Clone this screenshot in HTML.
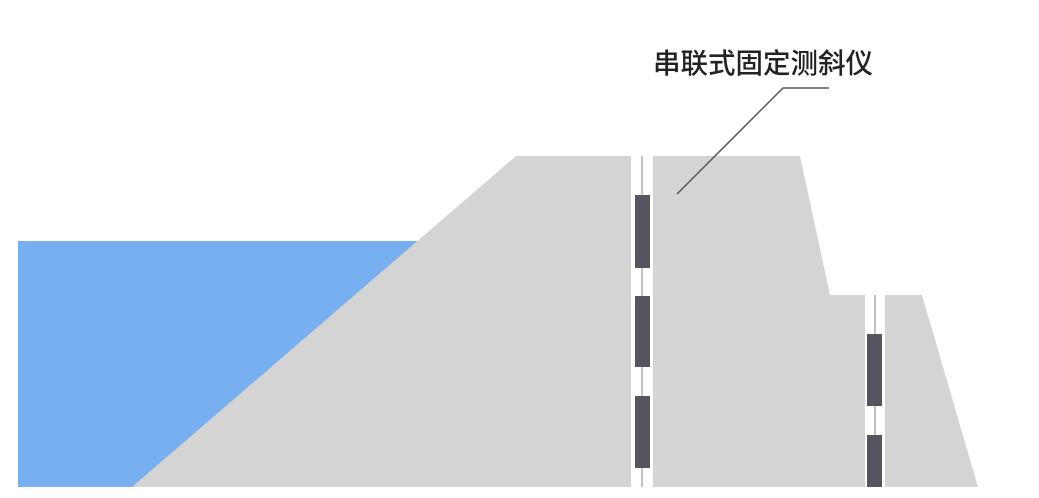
<!DOCTYPE html>
<html><head><meta charset="utf-8"><style>
html,body{margin:0;padding:0;background:#fff;width:1039px;height:498px;overflow:hidden}
</style></head><body>
<svg width="1039" height="498" viewBox="0 0 1039 498" xmlns="http://www.w3.org/2000/svg">
<rect x="18" y="241" width="420" height="246" fill="#78aff0"/>
<polygon points="516,156 631,156 631,487 132,487" fill="#d4d4d4"/>
<polygon points="653,156 800,156 830,295 865,295 865,487 653,487" fill="#d4d4d4"/>
<polygon points="885,295 922,295 978,487 885,487" fill="#d4d4d4"/>
<line x1="642" y1="156" x2="642" y2="487" stroke="#999" stroke-width="1.2"/>
<line x1="875" y1="295" x2="875" y2="487" stroke="#999" stroke-width="1.2"/>
<g fill="#555560">
<rect x="635" y="195" width="15" height="73"/>
<rect x="635" y="296" width="15" height="71"/>
<rect x="635" y="396" width="15" height="72"/>
<rect x="867" y="334" width="15" height="72"/>
<rect x="867" y="435" width="15" height="52"/>
</g>
<polyline points="677,194 783,88 829,88" fill="none" stroke="#555560" stroke-width="1.5"/>
<text x="653" y="73" font-family="'Noto Sans CJK SC','WenQuanYi Zen Hei',sans-serif" font-size="28" font-weight="500" textLength="220" lengthAdjust="spacingAndGlyphs" fill="#222">串联式固定测斜仪</text>
</svg>
</body></html>
